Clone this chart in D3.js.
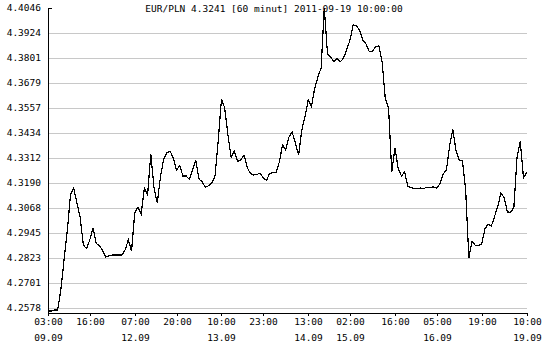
<!DOCTYPE html>
<html>
<head>
<meta charset="utf-8">
<script src="https://cdn.jsdelivr.net/npm/d3@7"></script>
<style>
  body { margin: 0; background: #fff; }
  svg text { font-family: "DejaVu Sans Mono", "Liberation Mono", monospace; font-size: 9.5px; fill: #000; }
</style>
</head>
<body>
<div id="chart"></div>
<script>
// hourly closes EUR/PLN, 09.09 03:00 .. 19.09 10:00 (weekend hours skipped)
const closes = [
  4.2563, 4.2563, 4.2568, 4.2568, 4.2666, 4.2813, 4.2955, 4.3131, 4.3165, 4.3092,
  4.3023, 4.2886, 4.2869, 4.2911, 4.2970, 4.2894, 4.2884, 4.2859, 4.2828, 4.2833,
  4.2837, 4.2837, 4.2837, 4.2837, 4.2862, 4.2911, 4.2857, 4.3043, 4.3072, 4.3038,
  4.3165, 4.3131, 4.3332, 4.3165, 4.3092, 4.3219, 4.3307, 4.3338, 4.3346, 4.3311,
  4.3253, 4.3274, 4.3224, 4.3224, 4.3208, 4.3253, 4.3302, 4.3209, 4.3195, 4.3168,
  4.3177, 4.3190, 4.3224, 4.3400, 4.3601, 4.3557, 4.3425, 4.3317, 4.3346, 4.3295,
  4.3302, 4.3327, 4.3266, 4.3236, 4.3229, 4.3231, 4.3239, 4.3214, 4.3202, 4.3237,
  4.3240, 4.3240, 4.3292, 4.3376, 4.3351, 4.3415, 4.3439, 4.3385, 4.3327, 4.3449,
  4.3514, 4.3596, 4.3564, 4.3652, 4.3708, 4.3752, 4.4046, 4.3821, 4.3806, 4.3784,
  4.3799, 4.3783, 4.3801, 4.3844, 4.3889, 4.3963, 4.3958, 4.3938, 4.3887, 4.3870,
  4.3833, 4.3833, 4.3858, 4.3860, 4.3782, 4.3601, 4.3557, 4.3244, 4.3361, 4.3261,
  4.3224, 4.3244, 4.3173, 4.3168, 4.3162, 4.3163, 4.3165, 4.3163, 4.3169, 4.3169,
  4.3170, 4.3165, 4.3185, 4.3234, 4.3253, 4.3371, 4.3454, 4.3346, 4.3302, 4.3297,
  4.3155, 4.2823, 4.2906, 4.2884, 4.2883, 4.2891, 4.2965, 4.2989, 4.2979, 4.3026,
  4.3077, 4.3141, 4.3116, 4.3048, 4.3046, 4.3070, 4.3317, 4.3395, 4.3214, 4.3241
];

const yTickLabels = ["4.4046", "4.3924", "4.3801", "4.3679", "4.3557", "4.3434", "4.3312",
  "4.3190", "4.3068", "4.2945", "4.2823", "4.2701", "4.2578"];

const xTickIndex = [0, 13, 27, 40, 54, 67, 81, 94, 108, 121, 135, 149];
const xTickTime  = ["03:00", "16:00", "07:00", "20:00", "10:00", "23:00", "13:00", "02:00", "16:00", "05:00", "19:00", "10:00"];
const xTickDate  = ["09.09", "", "12.09", "", "13.09", "", "14.09", "15.09", "", "16.09", "", "19.09"];

const title = "EUR/PLN 4.3241 [60 minut] 2011-09-19 10:00:00";

const W = 545, H = 346;
const margin = {top: 8, right: 18, bottom: 33, left: 48},
  width = W - margin.left - margin.right,
  height = H - margin.top - margin.bottom;

const yVals = yTickLabels.map(Number);
const yMax = d3.max(yVals), yLow = d3.min(yVals);
// axis runs a few px below the lowest tick
const yMin = yLow - (yMax - yLow) / 300 * 5;

const x = d3.scaleLinear().domain([0, closes.length - 1]).range([0, width - 0.3]);
const y = d3.scaleLinear().domain([yMin, yMax]).range([height, 0]);

const svg = d3.select("#chart").append("svg")
  .attr("width", W).attr("height", H)
  .append("g")
  .attr("transform", "translate(" + margin.left + "," + margin.top + ")");

// gridlines (not on the top tick)
svg.append("g").selectAll("line")
  .data(yVals.filter(v => v < yMax))
  .join("line")
  .attr("x1", 0).attr("x2", x(closes.length - 1))
  .attr("y1", d => Math.round(y(d)) + 0.5).attr("y2", d => Math.round(y(d)) + 0.5)
  .attr("stroke", "#c8c8c8").attr("stroke-width", 1)
  .attr("shape-rendering", "crispEdges");

// y labels
svg.append("g").selectAll("text")
  .data(yTickLabels)
  .join("text")
  .attr("x", -7)
  .attr("y", d => Math.round(y(+d)))
  .attr("dy", "0.35em")
  .attr("text-anchor", "end")
  .text(d => d);

// top tick
svg.append("line")
  .attr("x1", 0).attr("x2", 4).attr("y1", 0.5).attr("y2", 0.5)
  .attr("stroke", "#000").attr("shape-rendering", "crispEdges");

// axes lines
svg.append("line")
  .attr("x1", 0.5).attr("x2", 0.5).attr("y1", 0).attr("y2", height + 0.5)
  .attr("stroke", "#000").attr("shape-rendering", "crispEdges");
svg.append("line")
  .attr("x1", 0).attr("x2", x(closes.length - 1) + 1).attr("y1", height + 0.5).attr("y2", height + 0.5)
  .attr("stroke", "#000").attr("shape-rendering", "crispEdges");

// x ticks and two-row labels
const xt = svg.append("g").attr("transform", "translate(0," + height + ")")
  .selectAll("g").data(xTickIndex).join("g")
  .attr("transform", d => "translate(" + (Math.round(x(d)) + 0.5) + ",0)");
xt.append("line").attr("y1", 0).attr("y2", 3).attr("stroke", "#000").attr("shape-rendering", "crispEdges");
xt.append("text").attr("y", 12).attr("text-anchor", "middle").text((d, i) => xTickTime[i]);
xt.append("text").attr("y", 28).attr("text-anchor", "middle").text((d, i) => xTickDate[i]);

// price line
const line = d3.line()
  .x((d, i) => x(i))
  .y(d => y(d));

svg.append("path")
  .datum(closes)
  .attr("d", line)
  .attr("fill", "none")
  .attr("stroke", "#000")
  .attr("stroke-width", 1.2)
  .attr("shape-rendering", "crispEdges");

// title
d3.select("svg").append("text")
  .attr("x", 274).attr("y", 12)
  .attr("text-anchor", "middle")
  .text(title);
</script>
</body>
</html>
